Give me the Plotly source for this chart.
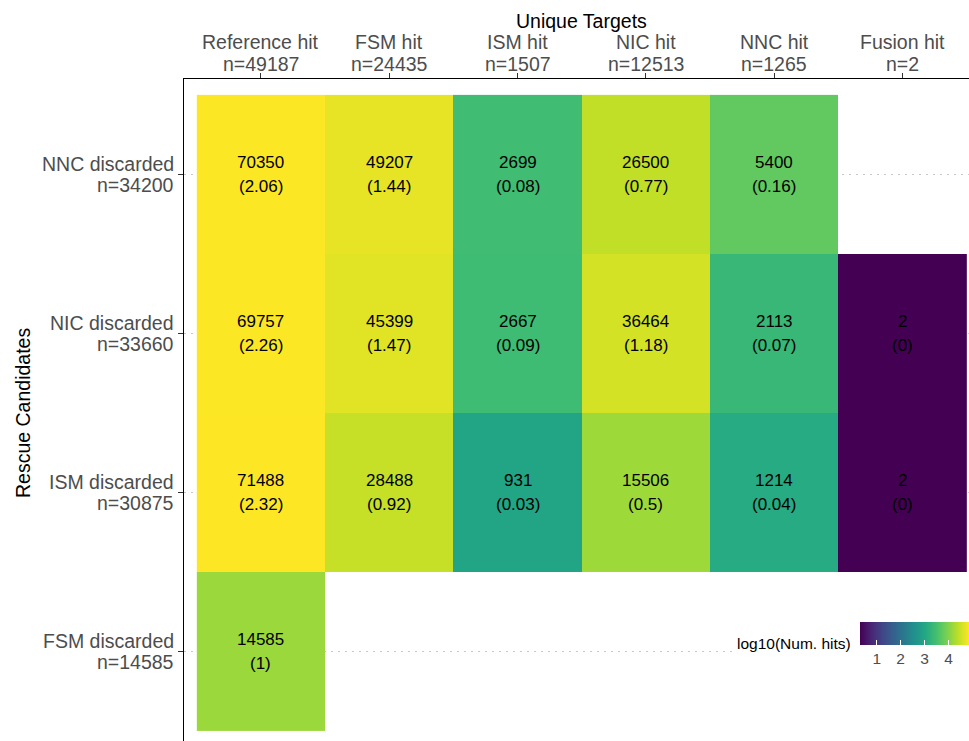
import math
import plotly.graph_objects as go

# Rows (rescue candidates), listed top to bottom
rows = ["NNC discarded", "NIC discarded", "ISM discarded", "FSM discarded"]
row_n = [34200, 33660, 30875, 14585]

# Columns (unique targets)
cols = ["Reference hit", "FSM hit", "ISM hit", "NIC hit", "NNC hit", "Fusion hit"]
col_n = [49187, 24435, 1507, 12513, 1265, 2]

# Number of hits per candidate/target combination (None = no hits)
hits = [
    [70350, 49207, 2699, 26500, 5400, None],
    [69757, 45399, 2667, 36464, 2113, 2],
    [71488, 28488, 931, 15506, 1214, 2],
    [14585, None, None, None, None, None],
]

# Hits per candidate, shown in parentheses
ratios = [
    ["2.06", "1.44", "0.08", "0.77", "0.16", None],
    ["2.26", "1.47", "0.09", "1.18", "0.07", "0"],
    ["2.32", "0.92", "0.03", "0.5", "0.04", "0"],
    ["1", None, None, None, None, None],
]

FONT = "Liberation Sans, Arial, Helvetica, sans-serif"
GREY = "#4D4D4D"
W, H = 969, 741
ML, MT = 184, 79
PW, PH = W - ML, H - MT

z = [[math.log10(v) if v is not None else None for v in r] for r in hits]
all_vals = [v for r in hits for v in r if v is not None]
zmin = math.log10(min(all_vals))
zmax = math.log10(max(all_vals))

viridis = [
    [0.0, "#440154"], [0.1, "#482475"], [0.2, "#414487"], [0.3, "#355f8d"],
    [0.4, "#2a788e"], [0.5, "#21918c"], [0.6, "#22a884"], [0.7, "#44bf70"],
    [0.8, "#7ad151"], [0.9, "#bddf26"], [1.0, "#fde725"],
]

fig = go.Figure(
    go.Heatmap(
        x=cols,
        y=rows,
        z=z,
        zmin=zmin,
        zmax=zmax,
        colorscale=viridis,
        xgap=0,
        ygap=0,
        hoverongaps=False,
        colorbar=dict(
            orientation="h",
            xref="paper",
            yref="paper",
            x=(860 - ML) / PW,
            xanchor="left",
            y=(H - 622) / PH,
            yanchor="top",
            lenmode="pixels",
            len=109,
            thickness=23,
            xpad=0,
            ypad=0,
            outlinewidth=0,
            tickvals=[1, 2, 3, 4],
            ticks="inside",
            ticklen=5,
            tickwidth=1,
            tickcolor="white",
            tickfont=dict(family=FONT, size=15.5, color=GREY),
            title=dict(text=""),
        ),
    )
)

annotations = []

# cell labels: hit count above, ratio in parentheses below
for r, rh, rp in zip(rows, hits, ratios):
    for c, v, p in zip(cols, rh, rp):
        if v is None:
            continue
        for txt, shift in ((str(v), 11.5), (f"({p})", -12.5)):
            annotations.append(dict(
                text=txt, xref="x", yref="y", x=c, y=r, yshift=shift,
                xanchor="center", yanchor="middle", showarrow=False,
                font=dict(family=FONT, size=17, color="black"),
            ))

# two-line column labels above the top axis
for c, n in zip(cols, col_n):
    for txt, shift in ((c, 37), (f"n={n}", 15)):
        annotations.append(dict(
            text=txt, xref="x", yref="paper", x=c, y=1, yshift=shift,
            xanchor="center", yanchor="middle", showarrow=False,
            font=dict(family=FONT, size=19.5, color=GREY),
        ))

# two-line row labels left of the axis
for r, n in zip(rows, row_n):
    for txt, shift in ((r, 10.5), (f"n={n}", -10.5)):
        annotations.append(dict(
            text=txt, xref="paper", yref="y", x=(176 - ML) / PW, y=r,
            yshift=shift, xanchor="right", yanchor="middle", showarrow=False,
            font=dict(family=FONT, size=19.5, color=GREY),
        ))

annotations += [
    dict(
        text="Unique Targets",
        xref="x",
        yref="paper",
        x=2.5,
        y=(H - 21) / PH,
        xanchor="center",
        yanchor="middle",
        showarrow=False,
        font=dict(family=FONT, size=19.5, color="black"),
    ),
    dict(
        text="Rescue Candidates",
        xref="paper",
        yref="paper",
        x=(23 - ML) / PW,
        y=(H - 413) / PH,
        xanchor="center",
        yanchor="middle",
        textangle=-90,
        showarrow=False,
        font=dict(family=FONT, size=19.5, color="black"),
    ),
    dict(
        text="log10(Num. hits)",
        xref="paper",
        yref="paper",
        x=(853 - ML) / PW,
        y=(H - 643) / PH,
        xanchor="right",
        yanchor="middle",
        showarrow=False,
        font=dict(family=FONT, size=15.5, color="black"),
    ),
]

fig.update_layout(
    width=W,
    height=H,
    margin=dict(l=ML, r=0, t=MT, b=0, pad=0, autoexpand=False),
    paper_bgcolor="white",
    plot_bgcolor="white",
    font=dict(family=FONT, color="black"),
    xaxis=dict(
        side="top",
        type="category",
        categoryorder="array",
        categoryarray=cols,
        range=[-0.6, 5.52],
        tickvals=cols,
        showticklabels=False,
        ticks="outside",
        ticklen=4.5,
        tickwidth=1.1,
        tickcolor="#333333",
        showline=True,
        linecolor="black",
        linewidth=1.1,
        showgrid=False,
        zeroline=False,
        fixedrange=True,
    ),
    yaxis=dict(
        type="category",
        categoryorder="array",
        categoryarray=rows[::-1],
        range=[3.6 - PH / 159.0, 3.6],
        tickvals=rows,
        showticklabels=False,
        ticks="outside",
        ticklen=4.5,
        tickwidth=1.1,
        tickcolor="#333333",
        showline=True,
        linecolor="black",
        linewidth=1.1,
        showgrid=True,
        gridcolor="#C8C8C8",
        gridwidth=1.2,
        griddash="2px,5px",
        zeroline=False,
        fixedrange=True,
    ),
    shapes=[
        # white legend background
        dict(
            type="rect",
            xref="paper",
            yref="paper",
            x0=(733 - ML) / PW,
            x1=1.05,
            y0=(H - 680) / PH,
            y1=(H - 608) / PH,
            fillcolor="white",
            line=dict(width=0),
            layer="above",
        )
    ],
    annotations=annotations,
)

fig.write_html("out.html")
